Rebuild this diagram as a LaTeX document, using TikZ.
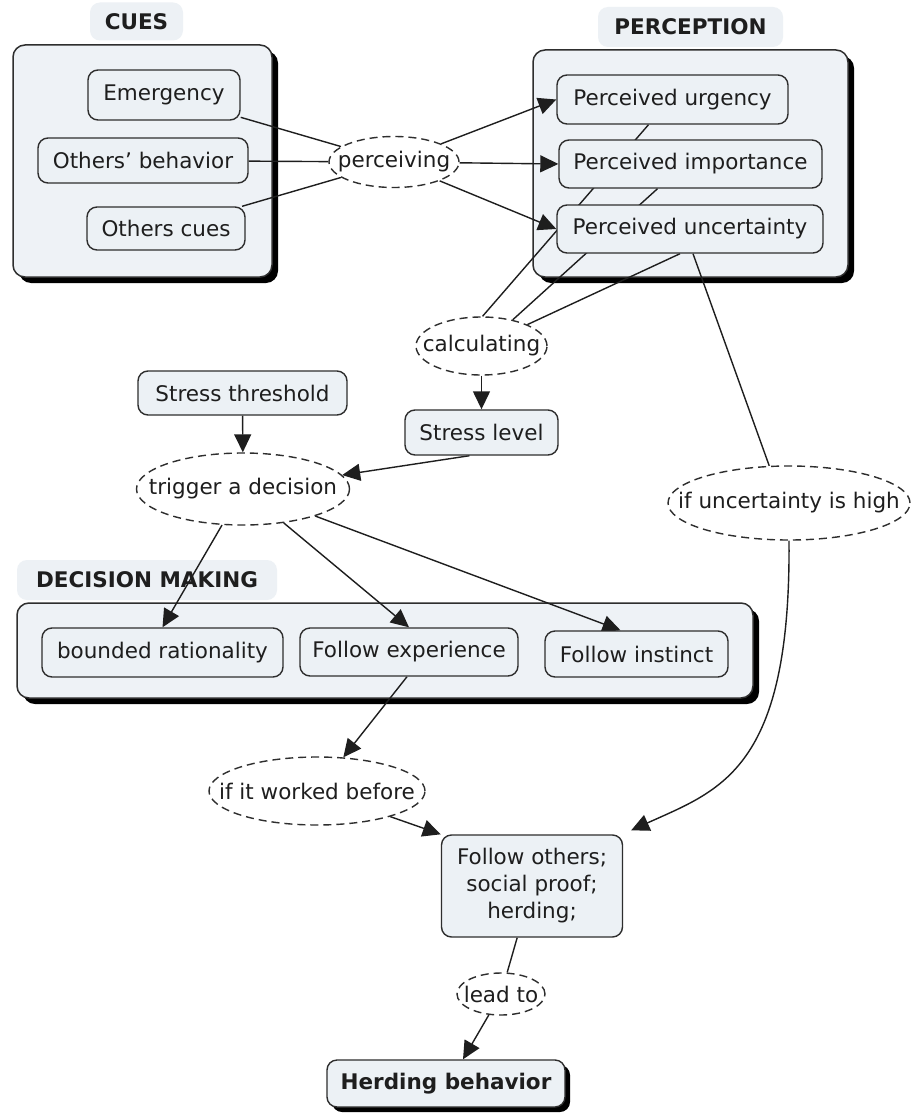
\documentclass[tikz,border=0pt]{standalone}
\usepackage{fontspec}
\setmainfont{DejaVu Sans}
\usetikzlibrary{arrows.meta,shapes.geometric,shadows}

\definecolor{ink}{HTML}{1E1E1E}
\definecolor{edge}{HTML}{2E2E2E}
\definecolor{conceptfill}{HTML}{ECF1F5}
\definecolor{groupfill}{HTML}{EEF2F6}
\definecolor{tagfill}{HTML}{EDF1F5}

% groups at the bottom, connectors above them, concepts on top
\pgfdeclarelayer{groups}
\pgfdeclarelayer{links}
\pgfsetlayers{groups,links,main}

% phrase text takes no width, so the ellipse keeps its given size
\newcommand{\phrasetext}[1]{\makebox[0pt]{#1}}

\begin{document}
\begin{tikzpicture}[x=1pt,y=-1pt,
  every node/.style={text=ink, font=\fontsize{21.5}{27}\selectfont},
  concept/.style={draw=edge, line width=1.4pt, fill=conceptfill,
    rounded corners=10pt, inner sep=0pt, align=center},
  phrase/.style={ellipse, draw=edge, line width=1.4pt,
    dash pattern=on 8pt off 5pt, fill=white, inner sep=0pt},
  group/.style={draw=edge, line width=1.5pt, fill=groupfill,
    rounded corners=12pt, inner sep=0pt,
    drop shadow={shadow xshift=6pt, shadow yshift=-6pt, fill=black, opacity=1}},
  tag/.style={fill=tagfill, rounded corners=10pt, inner sep=0pt,
    font=\fontsize{21.5}{27}\selectfont\bfseries},
  link/.style={draw=ink, line width=1.4pt},
  arrow/.style={link, -{Triangle[length=18pt,width=17pt]}},
]
\useasboundingbox (0,0) rectangle (912,1113);

\begin{pgfonlayer}{groups}
  \fill[white] (0,0) rectangle (912,1113);
  \node[tag, minimum width=93pt, minimum height=38pt] (cuesTag) at (136.5,21.5) {CUES};
  \node[group, minimum width=259pt, minimum height=232pt] (cuesBox) at (142.5,161) {};
  \node[tag, minimum width=185pt, minimum height=40pt] (percTag) at (690.5,27) {PERCEPTION};
  \node[group, minimum width=315pt, minimum height=227pt] (percBox) at (690.5,163.5) {};
  \node[tag, minimum width=260pt, minimum height=40pt] (decTag) at (147,580) {DECISION MAKING};
  \node[group, minimum width=736pt, minimum height=95pt] (decBox) at (385,650.5) {};
\end{pgfonlayer}

% cues
\node[concept, minimum width=152pt, minimum height=50pt] (emg) at (164,95) {Emergency};
\node[concept, minimum width=210pt, minimum height=45pt] (ob) at (143,160.5) {Others' behavior};
\node[concept, minimum width=158pt, minimum height=43pt] (oc) at (166,228.5) {Others cues};

% perception
\node[concept, minimum width=231pt, minimum height=49pt] (urg) at (672.5,99.5) {Perceived urgency};
\node[concept, minimum width=263pt, minimum height=48pt] (imp) at (690.5,164) {Perceived importance};
\node[concept, minimum width=266pt, minimum height=48pt] (unc) at (690,229) {Perceived uncertainty};

% stress
\node[concept, minimum width=209pt, minimum height=44pt] (st) at (242.5,393) {Stress threshold};
\node[concept, minimum width=153pt, minimum height=45pt] (sl) at (481.5,432.5) {Stress level};

% decision making
\node[concept, minimum width=241pt, minimum height=49pt] (br) at (162.5,652.5) {bounded rationality};
\node[concept, minimum width=218pt, minimum height=48pt] (fe) at (409,652) {Follow experience};
\node[concept, minimum width=183pt, minimum height=46pt] (fi) at (636.5,654) {Follow instinct};

% outcome
\node[concept, minimum width=181pt, minimum height=102pt] (fo) at (532,886)
  {Follow others;\\ social proof;\\ herding;};
\node[concept, minimum width=238pt, minimum height=47pt,
  font=\fontsize{21.5}{27}\selectfont\bfseries,
  drop shadow={shadow xshift=5pt, shadow yshift=-5pt, fill=black, opacity=1}]
  (hb) at (446,1083.5) {Herding behavior};

% linking phrases
\node[phrase, minimum width=130pt, minimum height=51pt] (perc) at (394,162) {\phrasetext{perceiving}};
\node[phrase, minimum width=131pt, minimum height=58pt] (calc) at (481.5,346) {\phrasetext{calculating}};
\node[phrase, minimum width=213pt, minimum height=72pt] (trig) at (243,489) {\phrasetext{trigger a decision}};
\node[phrase, minimum width=242pt, minimum height=74pt] (ifu) at (789,503) {\phrasetext{if uncertainty is high}};
\node[phrase, minimum width=216pt, minimum height=68pt] (iw) at (317,791) {\phrasetext{if it worked before}};
\node[phrase, minimum width=88pt, minimum height=42pt] (lead) at (501,994) {\phrasetext{lead to}};

\begin{pgfonlayer}{links}
  \draw[link] (emg) -- (perc);
  \draw[link] (ob) -- (perc);
  \draw[link] (oc) -- (perc);
  \draw[arrow] (perc) -- (urg.west);
  \draw[arrow] (perc) -- (imp.west);
  \draw[arrow] (perc) -- (unc.west);
  \draw[link] ([xshift=-24pt]urg.south) -- (calc.88);
  \draw[link] ([xshift=-33pt]imp.south) -- (calc.40);
  \draw[link] ([xshift=-10pt]unc.south) -- (calc.25);
  \draw[link] ([xshift=3pt]unc.south) -- (ifu.118);
  \draw[arrow] (calc) -- (sl);
  \draw[arrow] (st) -- (trig);
  \draw[arrow] ([xshift=-12pt]sl.south) -- (trig.8);
  \draw[arrow] (trig) -- (br.north);
  \draw[arrow] (trig) -- (fe.north);
  \draw[arrow] (trig) -- ([xshift=-16pt]fi.north);
  \draw[arrow] ([xshift=-2pt]fe.south) -- (iw.52);
  \draw[arrow] (iw) -- (fo.north west);
  \draw[arrow] (ifu.south) .. controls (791,770) and (720,790) .. ([xshift=8pt,yshift=4pt]fo.north east);
  \draw[link] (fo) -- (lead);
  \draw[arrow] (lead) -- ([xshift=17pt]hb.north);
\end{pgfonlayer}
\end{tikzpicture}
\end{document}
